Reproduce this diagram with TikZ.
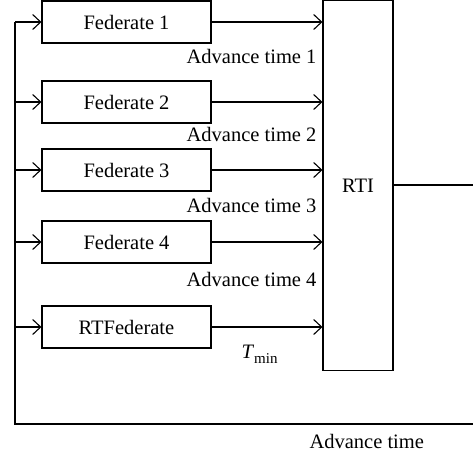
\documentclass[tikz,border=0pt]{standalone}
\usepackage{fontspec}
\setmainfont{Liberation Serif}
\usetikzlibrary{arrows.meta}
\begin{document}
\begin{tikzpicture}[x=1pt,y=-1pt,
  font=\fontsize{20.5}{24}\selectfont,
  line width=1.1pt,
  fedbox/.style={draw,minimum width=169pt,minimum height=42pt,inner sep=0pt},
  arr/.style={-{Straight Barb[length=8pt,width=15pt]}},
  lbl/.style={inner sep=0pt,anchor=base east}]
\useasboundingbox (0,0) rectangle (473,456);
\node[fedbox] (f1) at (126.5,22) {Federate 1};
\node[fedbox] (f2) at (126.5,102) {Federate 2};
\node[fedbox] (f3) at (126.5,170) {Federate 3};
\node[fedbox] (f4) at (126.5,242) {Federate 4};
\node[fedbox] (rt) at (126.5,327) {RTFederate};
\node[draw,minimum width=70pt,minimum height=369.5pt,inner sep=0pt] (rti) at (358,185.5) {RTI};
\coordinate (c1) at (15,22);
\coordinate (c2) at (15,102);
\coordinate (c3) at (15,170);
\coordinate (c4) at (15,242);
\coordinate (c5) at (15,327);
\coordinate (bl) at (15,424);
\coordinate (br) at (473,424);
\coordinate (out) at (473,185);
\draw (rti.east |- out) -- (out);
\draw (br) -- (bl) -- (c1);
\foreach \i/\n in {1/f1,2/f2,3/f3,4/f4,5/rt}{
  \draw[arr] (c\i) -- (\n.west);
  \draw[arr] (\n.east) -- (\n.east -| rti.west);
}
\node[lbl] (a1) at (317,63) {Advance time 1};
\node[lbl] (a2) at (317,141) {Advance time 2};
\node[lbl] (a3) at (317,212) {Advance time 3};
\node[lbl] (a4) at (317,286) {Advance time 4};
\node[inner sep=0pt,anchor=base west] (tm) at (241,358) {\textit{T}\raisebox{-5pt}{\fontsize{15}{17}\selectfont min}};
\node[inner sep=0pt,anchor=base west] (at) at (309,448) {Advance time};
\end{tikzpicture}
\end{document}
